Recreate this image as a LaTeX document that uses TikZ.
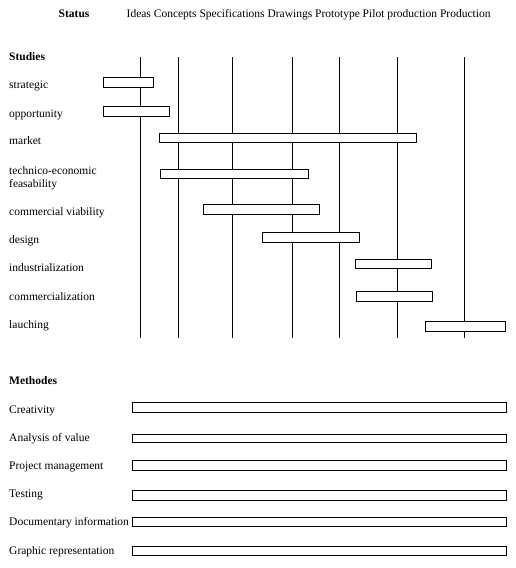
\documentclass[tikz,border=0pt]{standalone}
\usepackage{fontspec}
\setmainfont{Liberation Serif}
\begin{document}
\begin{tikzpicture}[x=1pt,y=-1pt,
  lbl/.style={anchor=base west, inner sep=0pt, font=\fontsize{11.5}{13}\selectfont},
  head/.style={lbl, font=\fontsize{11.5}{13}\selectfont\bfseries},
  stage/.style={line width=0.9pt},
  bar/.style={draw, fill=white, line width=0.9pt}]
\useasboundingbox (0,0) rectangle (516,568);
% header
\node[head] (status) at (58.5,17) {Status};
\node[lbl] (stages) at (126.5,17) {Ideas Concepts Specifications Drawings Prototype Pilot production Production};
% stage lines
\foreach \x [count=\i] in {140.3,178.7,232.3,292.7,339.3,397.3,464.3} {
  \coordinate (t\i) at (\x,57);
  \coordinate (b\i) at (\x,337.5);
  \draw[stage] (t\i) -- (b\i);
}
% Studies
\node[head] (studies) at (9,60.5) {Studies};
\node[lbl] (l1) at (9,88.5) {strategic};
\node[lbl] (l2) at (9,117) {opportunity};
\node[lbl] (l3) at (9,144.5) {market};
\node[lbl] (l4a) at (9,174) {technico-economic};
\node[lbl] (l4b) at (9,187.5) {feasability};
\node[lbl] (l5) at (9,215.5) {commercial viability};
\node[lbl] (l6) at (9,243.5) {design};
\node[lbl] (l7) at (9,271.5) {industrialization};
\node[lbl] (l8) at (9,300.5) {commercialization};
\node[lbl] (l9) at (9,328.5) {lauching};
\draw[bar] (103.3,77.3) rectangle (153.7,87.3);
\draw[bar] (103.3,106.7) rectangle (169.7,116);
\draw[bar] (159.3,133.3) rectangle (416.3,142.3);
\draw[bar] (160.3,169.3) rectangle (308.7,178.3);
\draw[bar] (203.3,204.3) rectangle (319.3,214.3);
\draw[bar] (262.7,232.3) rectangle (359.3,242.7);
\draw[bar] (355.3,259.3) rectangle (431.7,268.3);
\draw[bar] (356.3,291.3) rectangle (432.7,301.3);
\draw[bar] (425.3,321.3) rectangle (505.3,331);
% Methodes
\node[head] (methodes) at (9,384.5) {Methodes};
\node[lbl] (m1) at (9,413.5) {Creativity};
\node[lbl] (m2) at (9,441.5) {Analysis of value};
\node[lbl] (m3) at (9,469.5) {Project management};
\node[lbl] (m4) at (9,497.5) {Testing};
\node[lbl] (m5) at (9,525.5) {Documentary information};
\node[lbl] (m6) at (9,554.5) {Graphic representation};
\draw[bar] (132.7,402.7) rectangle (506,412.3);
\draw[bar] (132.7,434) rectangle (506,442.7);
\draw[bar] (132.7,460.5) rectangle (506,470);
\draw[bar] (132.7,490) rectangle (506,500);
\draw[bar] (132.7,517.3) rectangle (506,526.7);
\draw[bar] (132.7,546) rectangle (506,555.7);
\end{tikzpicture}
\end{document}
